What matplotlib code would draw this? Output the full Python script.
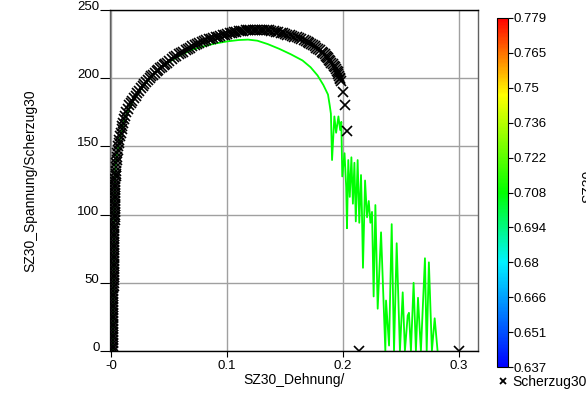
import matplotlib
matplotlib.use("Agg")
import matplotlib.pyplot as plt
from matplotlib.colors import LinearSegmentedColormap, Normalize
from matplotlib.cm import ScalarMappable
from matplotlib.lines import Line2D

plt.rcParams['font.family'] = ['Liberation Sans', 'DejaVu Sans']

# Scherzug30 measured points (x markers): elastic part near zero strain
sz_strain_lin = [
    0.0012, 0.0012, 0.0013, 0.0013, 0.0013, 0.0013, 0.0014, 0.0014, 0.0014, 0.0014, 0.0014, 0.0015, 0.0015,
    0.0015, 0.0015, 0.0016, 0.0016, 0.0016, 0.0017, 0.0017, 0.0017, 0.0018, 0.0018, 0.0018, 0.0019,
    0.0019, 0.0019, 0.0020, 0.0020, 0.0020, 0.0021, 0.0021, 0.0021, 0.0022, 0.0022, 0.0022,
    0.0023, 0.0023, 0.0023, 0.0024, 0.0024, 0.0024, 0.0025, 0.0025, 0.0025, 0.0026, 0.0026,
    0.0026, 0.0027, 0.0027, 0.0027, 0.0028, 0.0028, 0.0029, 0.0029, 0.0030, 0.0030,
    0.0031, 0.0031, 0.0032, 0.0033, 0.0033, 0.0034, 0.0035, 0.0036, 0.0037, 0.0038]
sz_stress_lin = [
    0, 2, 4, 6, 8, 10, 12, 14, 16, 18, 20, 22, 24,
    26, 28, 30, 32, 34, 36, 38, 40, 42, 44, 46, 48,
    50, 52, 54, 56, 58, 60, 62, 64, 66, 68, 70,
    72, 74, 76, 78, 80, 82, 84, 86, 88, 90, 92,
    94, 96, 98, 100, 102, 104, 106, 108, 110, 112,
    114, 116, 118, 120, 122, 124, 126, 128, 130, 132]

# Scherzug30 measured points: plastic part and fracture
sz_strain_pl = [
    0.0040, 0.0043, 0.0045, 0.0048, 0.0052, 0.0056, 0.0060, 0.0065, 0.0070, 0.0076,
    0.0082, 0.0088, 0.0095, 0.0102, 0.0110, 0.0120, 0.0130, 0.0142, 0.0155, 0.0167,
    0.0180, 0.0195, 0.0210, 0.0225, 0.0240, 0.0255, 0.0270, 0.0285, 0.0300, 0.0315,
    0.0330, 0.0345, 0.0360, 0.0375, 0.0390, 0.0405, 0.0420, 0.0435, 0.0450, 0.0465,
    0.0480, 0.0500, 0.0520, 0.0540, 0.0560, 0.0580, 0.0600, 0.0620, 0.0640, 0.0660,
    0.0680, 0.0700, 0.0720, 0.0740, 0.0760, 0.0780, 0.0800, 0.0820, 0.0840, 0.0860,
    0.0880, 0.0900, 0.0920, 0.0940, 0.0960, 0.0980, 0.1000, 0.1020, 0.1040, 0.1060,
    0.1080, 0.1100, 0.1120, 0.1140, 0.1160, 0.1180, 0.1200, 0.1220, 0.1240, 0.1260,
    0.1280, 0.1300, 0.1320, 0.1340, 0.1360, 0.1380, 0.1400, 0.1420, 0.1440, 0.1460,
    0.1480, 0.1500, 0.1520, 0.1540, 0.1560, 0.1580, 0.1600, 0.1620, 0.1640, 0.1660,
    0.1680, 0.1695, 0.1710, 0.1725, 0.1740, 0.1755, 0.1770, 0.1785, 0.1800, 0.1815,
    0.1830, 0.1840, 0.1850, 0.1860, 0.1870, 0.1880, 0.1890, 0.1900, 0.1910, 0.1920,
    0.1930, 0.1938, 0.1945, 0.1953, 0.1960, 0.1965, 0.1970, 0.1975, 0.1980,
    0.1997, 0.2017, 0.2034, 0.2140, 0.3000]
sz_stress_pl = [
    135, 137.5, 140, 142.5, 145, 147.5, 150, 152.5, 155, 157.5,
    160, 162.5, 165, 167.5, 170, 172.5, 175, 177.5, 180, 182,
    183.5, 185.5, 187, 189, 190.5, 192.5, 194, 195.5, 197, 198.5,
    200, 201.3, 202.5, 203.8, 205, 206.3, 207.5, 208.5, 209.5, 210.5,
    211.5, 212.8, 214, 215.3, 216.5, 217.5, 218.5, 219.5, 220.5, 221.5,
    222.5, 223.3, 224, 224.8, 225.5, 226.3, 227, 227.8, 228.5, 229,
    229.5, 230, 230.5, 231, 231.5, 232, 232.5, 232.9, 233.3, 233.7,
    234, 234.3, 234.6, 234.8, 235, 235.2, 235.3, 235.4, 235.5, 235.5,
    235.5, 235.4, 235.3, 235.2, 235, 234.7, 234.4, 234, 233.6, 233.2,
    232.8, 232.4, 232, 231.5, 231, 230.5, 230, 229.5, 229, 228.3,
    227.5, 226.8, 226, 225.3, 224.5, 223.5, 222.5, 221.5, 220.5, 219.5,
    218.5, 217.5, 216.5, 215.5, 214.5, 213.5, 212.5, 211.5, 210.5, 209.3,
    208, 206.8, 205.5, 204.3, 203, 201.8, 200.5, 199.3, 198,
    190, 180, 161, 0, 0]

# SZ30 curve (coloured by its value on the colour scale)
sz30_strain = [
    0.0012, 0.0014, 0.0016, 0.0018, 0.0020, 0.0022, 0.0025, 0.0028, 0.0033, 0.0040,
    0.0060, 0.011, 0.019, 0.028, 0.040, 0.050, 0.060, 0.070, 0.080, 0.090, 0.100,
    0.110, 0.118, 0.126, 0.135, 0.145, 0.155, 0.165, 0.172, 0.178, 0.183, 0.187,
    0.1885, 0.1895, 0.1905, 0.1925, 0.1940, 0.1960, 0.1975, 0.1985, 0.1993, 0.2013,
    0.2027, 0.2034, 0.2045, 0.2058, 0.2072, 0.2085, 0.2098, 0.2110, 0.2126, 0.2140,
    0.2155, 0.2163, 0.2172, 0.2190, 0.2207, 0.2222, 0.2236, 0.2250, 0.2264, 0.2279,
    0.2299, 0.2328, 0.2365, 0.2371, 0.2397, 0.2420, 0.2440, 0.2463, 0.2491, 0.2515,
    0.2534, 0.2558, 0.2569, 0.2586, 0.2609, 0.2629, 0.2647, 0.2672, 0.2707, 0.2722,
    0.2741, 0.2767, 0.2791, 0.2816]
sz30_stress = [
    0, 10, 20, 40, 60, 80, 100, 115, 130, 140,
    150, 170, 184, 195, 206, 212, 217, 221, 223.5, 225.5, 227,
    228, 228.3, 227.5, 225, 221.5, 217.5, 213, 208, 202, 195, 188,
    180, 174, 140, 172, 160, 172, 162, 168, 128, 145,
    120, 90, 140, 113, 142, 108, 138, 95, 140, 94,
    129, 102, 61, 125, 98, 110, 94, 102, 40, 107,
    31, 87, 0, 37, 4, 93, 0, 79, 0, 43,
    0, 26, 28, 0, 50, 0, 39, 0, 68, 0,
    65, 0, 24, 0]
sz30_value = 0.708

cbar_ticks = [0.637, 0.6512, 0.6654, 0.6796, 0.6938, 0.708, 0.7222, 0.7364, 0.7506, 0.7648, 0.779]
cbar_labels = ['0.637', '0.651', '0.666', '0.68', '0.694', '0.708', '0.722', '0.736', '0.75', '0.765', '0.779']

cmap = LinearSegmentedColormap.from_list('scale', [
    (0.0, (0, 0, 1)), (0.3, (0, 0.95, 1)), (0.5, (0, 1, 0)),
    (0.78, (1, 1, 0)), (1.0, (1, 0, 0))])
norm = Normalize(cbar_ticks[0], cbar_ticks[-1])

fig = plt.figure(figsize=(5.86, 3.96), dpi=100)
ax = fig.add_axes([110/586, 45/396, 368/586, 341/396])
cax = fig.add_axes([497/586, 29/396, 11/586, 349/396])

ax.plot(sz30_strain, sz30_stress, color=cmap(norm(sz30_value)), lw=1.3, zorder=2)
ax.plot(sz_strain_lin + sz_strain_pl, sz_stress_lin + sz_stress_pl, ls='none', marker='x',
        color='black', markersize=6.5, markeredgewidth=1.2, zorder=3)

ax.set_xlim(-0.0012, 0.3165)
ax.set_ylim(0, 250)
ax.set_xticks([0, 0.1, 0.2, 0.3])
ax.set_xticklabels(['-0', '0.1', '0.2', '0.3'])
ax.set_yticks([0, 50, 100, 150, 200, 250])
ax.tick_params(axis='x', direction='out', length=4.5, pad=2, labelsize=9.5)
ax.tick_params(axis='y', direction='out', length=7, pad=0.5, labelsize=9.5)
for t in ax.get_yticklabels():
    t.set_va('baseline')
ax.grid(True, color='#a0a0a0', lw=1.0)
ax.set_axisbelow(True)
for s in ['left', 'right']:
    ax.spines[s].set_color('#606060')
for s in ax.spines.values():
    s.set_linewidth(1.0)

fig.text(294/586, 1 - 380/396, 'SZ30_Dehnung/', ha='center', va='center', fontsize=10)
fig.text(30/586, 1 - 181/396, 'SZ30_Spannung/Scherzug30', ha='center', va='center',
         rotation=90, fontsize=10)

sm = ScalarMappable(norm=norm, cmap=cmap)
cb = fig.colorbar(sm, cax=cax)
cb.set_ticks(cbar_ticks)
cb.set_ticklabels(cbar_labels)
cax.tick_params(length=3.5, width=0.8, pad=0.5, labelsize=9.5)
cb.outline.set_edgecolor('black')
cb.outline.set_linewidth(0.8)

# colour scale title, cut off by the right edge as in the source
fig.text(581/586, 1 - 186/396, 'SZ30', rotation=90, ha='left', va='center', fontsize=10)

handle = Line2D([], [], ls='none', marker='x', color='black', markersize=5, markeredgewidth=1.3)
fig.legend(handles=[handle], labels=['Scherzug30'], loc='center left',
           bbox_to_anchor=(497/586, 1 - 382/396), frameon=False, borderpad=0,
           borderaxespad=0, handlelength=0.8, handletextpad=0.3, fontsize=10)

fig.savefig('out.png', dpi=100)
